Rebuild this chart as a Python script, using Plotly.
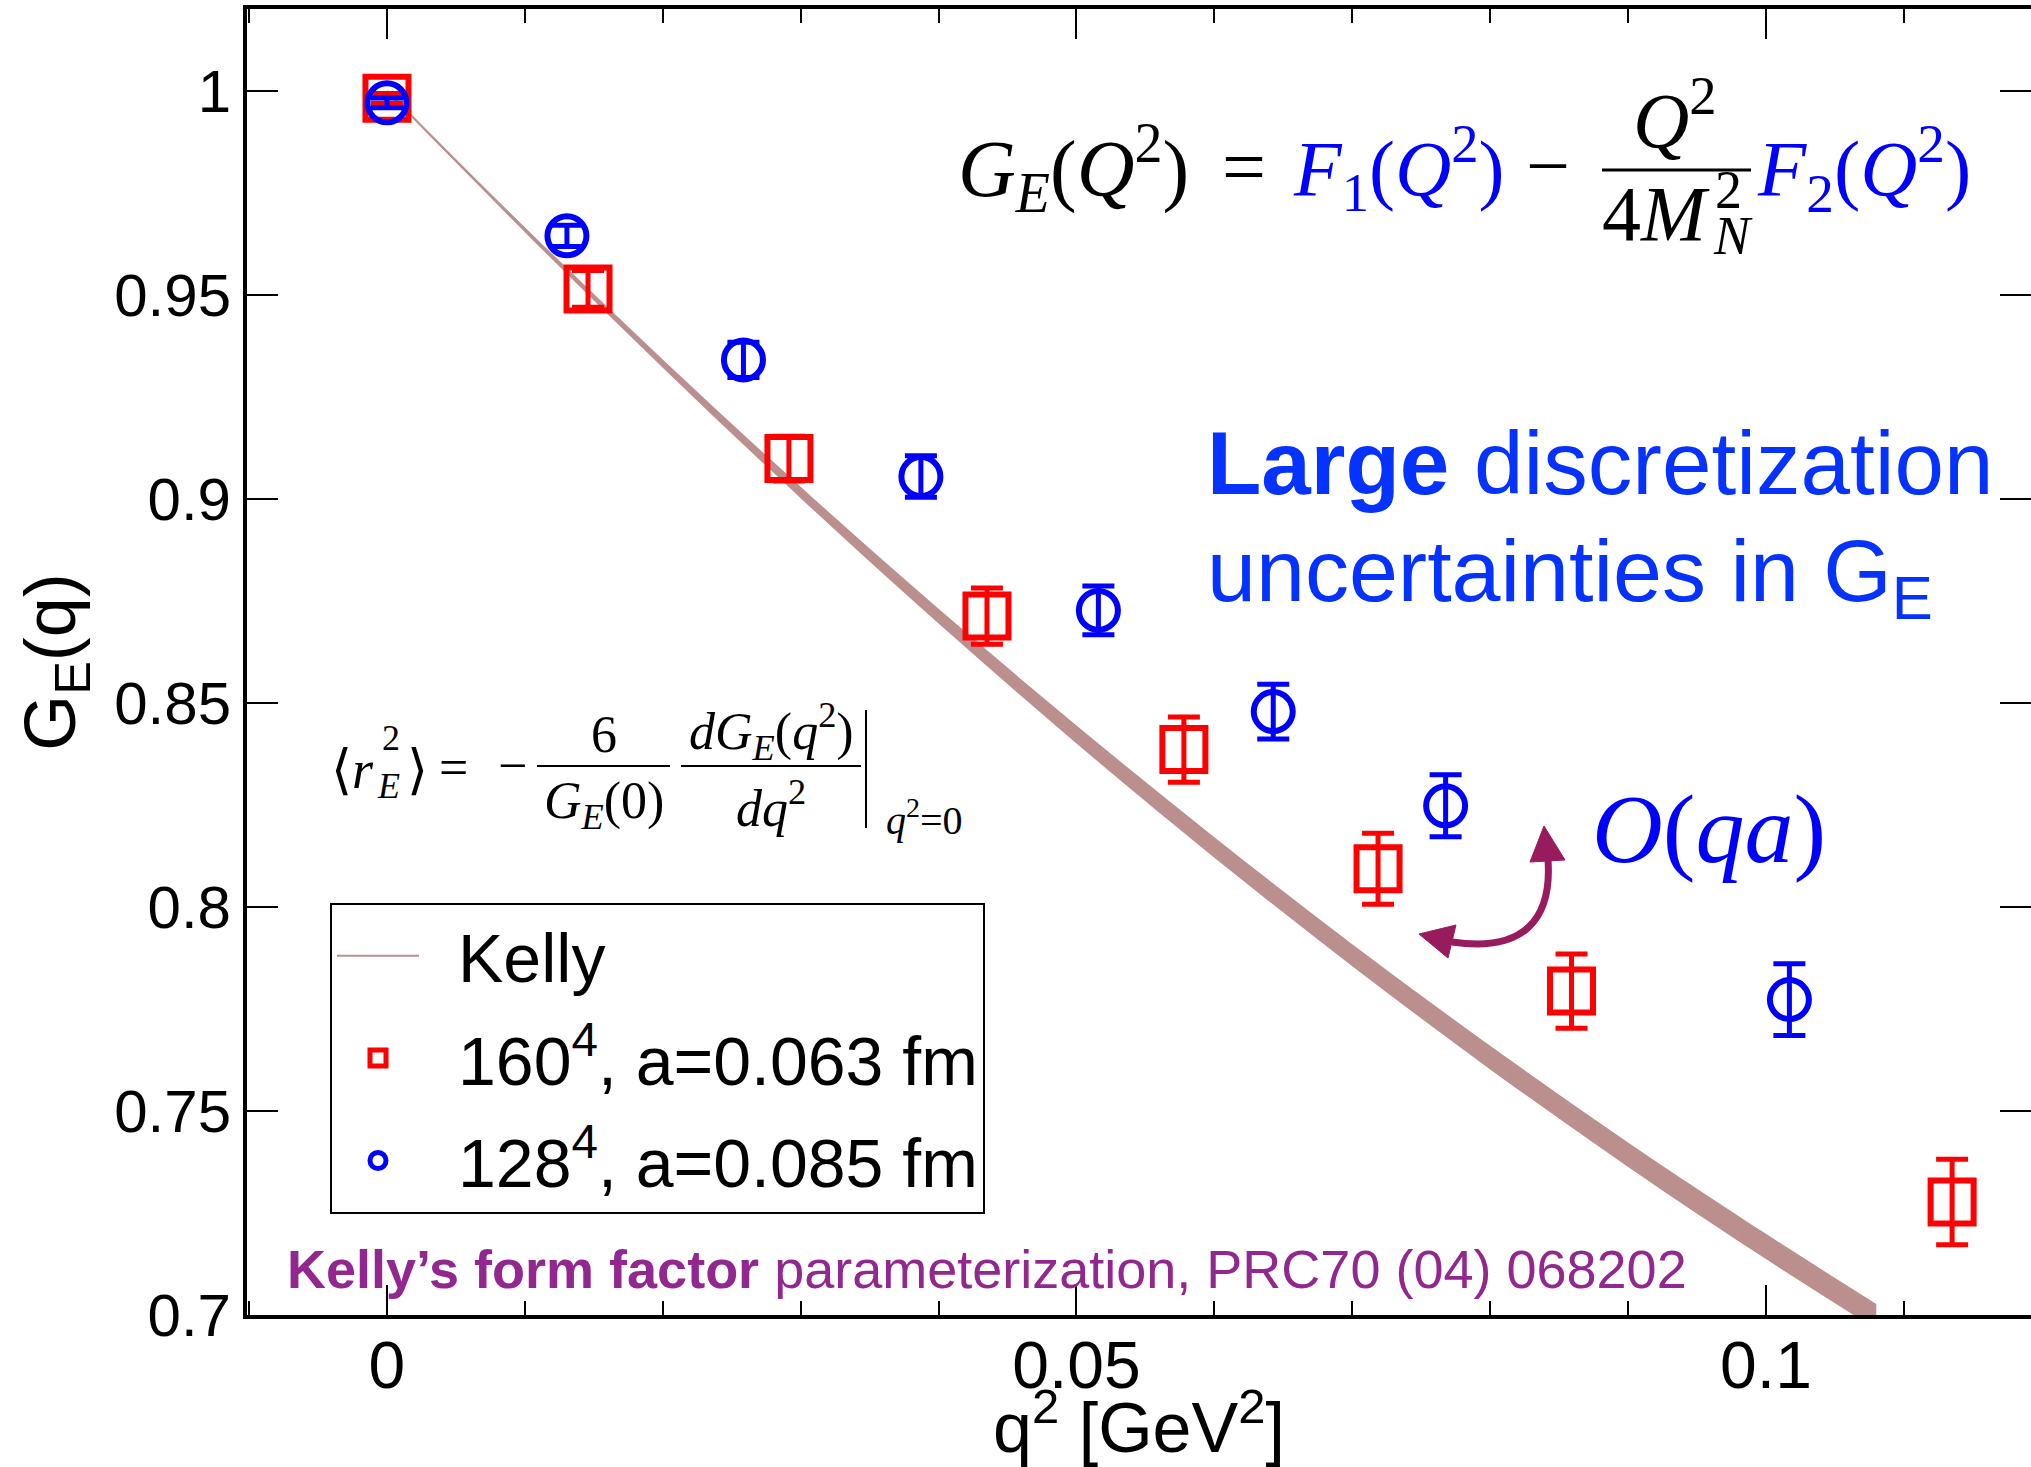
import plotly.graph_objects as go

# ---------------- data ----------------
kelly_q2 = [0.0, 0.01, 0.02, 0.03, 0.04, 0.05, 0.06, 0.07, 0.08, 0.09, 0.10, 0.108]
kelly_ge = [1.000, 0.966, 0.9332, 0.9016, 0.8713, 0.8423, 0.8146, 0.7882, 0.7631, 0.7393, 0.7168, 0.6996]
kelly_err = [0.0002, 0.0006, 0.0010, 0.0014, 0.0018, 0.0022, 0.0025, 0.0027, 0.0029, 0.0030, 0.0031, 0.0031]

red_q2 = [0.0, 0.01458, 0.02915, 0.04351, 0.05779, 0.07187, 0.0859, 0.1135]
red_ge = [0.9982, 0.9515, 0.9099, 0.8713, 0.8386, 0.8094, 0.7794, 0.7277]
red_err = [0.0012, 0.0045, 0.0055, 0.0069, 0.0080, 0.0087, 0.0091, 0.0105]

blue_q2 = [0.0, 0.01305, 0.02585, 0.03872, 0.05159, 0.06427, 0.07677, 0.1017]
blue_ge = [0.9971, 0.9645, 0.9341, 0.9055, 0.8727, 0.8479, 0.8248, 0.7773]
blue_err = [0.0012, 0.0026, 0.0043, 0.0051, 0.0060, 0.0067, 0.0076, 0.0088]

legend_names = ["Kelly", "160<sup>4</sup>, a=0.063 fm", "128<sup>4</sup>, a=0.085 fm"]

# ---------------- geometry ----------------
W, H = 2031, 1467
PL, PR, PT, PB = 247, 2031, 9, 1315
XR = [-0.01015, 0.11922]
YR = [0.7, 1.0201]

def px(x):
    return (x - PL) / (PR - PL)

def py(y):
    return (PB - y) / (PB - PT)

SANS = "Liberation Sans, Arial, Helvetica, sans-serif"
SERIF = "Liberation Serif, Times New Roman, DejaVu Serif, serif"
ROSY = "rgb(188,143,143)"
PURPLE = "rgb(146,39,143)"
ARROW = "rgb(152,27,94)"
PAD = "\u2002"

fig = go.Figure()

lo = [c - e for c, e in zip(kelly_ge, kelly_err)]
hi = [c + e for c, e in zip(kelly_ge, kelly_err)]
fig.add_trace(go.Scatter(x=kelly_q2, y=lo, mode="lines", line=dict(width=0, color=ROSY, shape="spline"),
                         showlegend=False, hoverinfo="skip", legendgroup="a"))
fig.add_trace(go.Scatter(x=kelly_q2, y=hi, mode="lines", line=dict(width=0, color=ROSY, shape="spline"),
                         fill="tonexty", fillcolor=ROSY, showlegend=False, hoverinfo="skip",
                         legendgroup="a"))
fig.add_trace(go.Scatter(x=kelly_q2, y=kelly_ge, mode="lines",
                         line=dict(width=2, color=ROSY, shape="spline"),
                         name=PAD + legend_names[0], legendgroup="a"))

fig.add_trace(go.Scatter(
    x=red_q2, y=red_ge, mode="markers", name=PAD + legend_names[1], legendgroup="b",
    marker=dict(symbol="square-open", size=43, color="#ff0000", line=dict(width=6, color="#ff0000")),
    error_y=dict(type="data", array=red_err, visible=True, color="#ff0000", thickness=5, width=16)))

fig.add_trace(go.Scatter(
    x=blue_q2, y=blue_ge, mode="markers", name=PAD + legend_names[2], legendgroup="c",
    marker=dict(symbol="circle-open", size=39, color="#0000ff", line=dict(width=6, color="#0000ff")),
    error_y=dict(type="data", array=blue_err, visible=True, color="#0000ff", thickness=5, width=16)))

# invisible helper trace so the right-hand tick axis is drawn
fig.add_trace(go.Scatter(x=kelly_q2, y=kelly_ge, yaxis="y2", mode="lines", line=dict(width=0),
                         opacity=0, showlegend=False, hoverinfo="skip", legendgroup="a"))

ann = []

def text(x, y, t, size, color="black", family=SANS, xanchor="left", yanchor="middle"):
    ann.append(dict(x=px(x), y=py(y), xref="paper", yref="paper", text=t, showarrow=False,
                    font=dict(size=size, color=color, family=family),
                    xanchor=xanchor, yanchor=yanchor))

# top formula
text(956, 168, "<i>G</i><sub><i>E</i></sub>(<i>Q</i><sup>2</sup>)", 80, family=SERIF)
text(1244, 166, "=", 78, family=SERIF, xanchor="center")
text(1291, 168, "<i>F</i><sub>1</sub>(<i>Q</i><sup>2</sup>)", 78, color="#0000ff", family=SERIF)
text(1548, 165, "\u2212", 78, family=SERIF, xanchor="center")
text(1675, 115, "<i>Q</i><sup>2</sup>", 78, family=SERIF, xanchor="center")
text(1712, 214, "4<i>M</i>", 78, family=SERIF, xanchor="right")
text(1713, 190, "2", 54, family=SERIF)
text(1711, 236, "<i>N</i>", 54, family=SERIF)
text(1755, 168, "<i>F</i><sub>2</sub>(<i>Q</i><sup>2</sup>)", 79, color="#0000ff", family=SERIF)

# blue statement
text(1205, 463, "<b>Large</b> discretization", 89, color="rgb(5,50,255)")
text(1205, 576, "uncertainties in G<sub>E</sub>", 88, color="rgb(5,50,255)")

# O(qa)
text(1709, 829, "<i>O</i>(<i>qa</i>)", 98, color="#0000ff", family=SERIF, xanchor="center")

# radius formula
text(329, 770, "\u27e8<i>r</i>", 54, family=SERIF)
text(380, 738, "2", 36, family=SERIF)
text(375, 786, "<i>E</i>", 36, family=SERIF)
text(405, 770, "\u27e9", 54, family=SERIF)
text(453, 767, "=", 52, family=SERIF, xanchor="center")
text(512, 766, "\u2212", 52, family=SERIF, xanchor="center")
text(604, 734, "6", 52, family=SERIF, xanchor="center")
text(604, 805, "<i>G</i><sub><i>E</i></sub>(0)", 52, family=SERIF, xanchor="center")
text(771, 731, "<i>dG</i><sub><i>E</i></sub>(<i>q</i><sup>2</sup>)", 52, family=SERIF, xanchor="center")
text(771, 805, "<i>dq</i><sup>2</sup>", 52, family=SERIF, xanchor="center")
text(884, 818, "<i>q</i><sup>2</sup>=0", 40, family=SERIF)

# reference line
text(285, 1269, "<b>Kelly\u2019s form factor</b> parameterization, PRC70 (04) 068202", 54, color=PURPLE)

shapes = [
    dict(type="line", xref="paper", yref="paper", x0=px(1602), x1=px(1751), y0=py(170), y1=py(170),
         line=dict(color="black", width=3)),
    dict(type="line", xref="paper", yref="paper", x0=px(537), x1=px(670), y0=py(766), y1=py(766),
         line=dict(color="black", width=2)),
    dict(type="line", xref="paper", yref="paper", x0=px(681), x1=px(861), y0=py(766), y1=py(766),
         line=dict(color="black", width=2)),
    dict(type="line", xref="paper", yref="paper", x0=px(866), x1=px(866), y0=py(710), y1=py(828),
         line=dict(color="black", width=2)),
]

def P(x, y):
    return f"{px(x):.5f},{py(y):.5f}"

shapes.append(dict(type="path", xref="paper", yref="paper",
                   path=f"M{P(1452,942)} C{P(1525,953)} {P(1552,918)} {P(1548,860)}",
                   line=dict(color=ARROW, width=7)))
shapes.append(dict(type="path", xref="paper", yref="paper",
                   path=f"M{P(1419,934)} L{P(1456,925)} L{P(1448,958)} Z",
                   fillcolor=ARROW, line=dict(color=ARROW, width=1)))
shapes.append(dict(type="path", xref="paper", yref="paper",
                   path=f"M{P(1544,826)} L{P(1565,860)} L{P(1530,862)} Z",
                   fillcolor=ARROW, line=dict(color=ARROW, width=1)))

fig.update_layout(
    width=W, height=H, autosize=False,
    margin=dict(l=PL, r=W - PR, t=PT, b=H - PB, pad=0),
    paper_bgcolor="white", plot_bgcolor="white",
    font=dict(family=SANS, color="black"),
    showlegend=True,
    legend=dict(x=px(330), y=py(903), xanchor="left", yanchor="top",
                bgcolor="white", bordercolor="black", borderwidth=2,
                font=dict(size=68, family=SANS, color="black"),
                itemwidth=82, tracegroupgap=11, traceorder="grouped"),
    xaxis=dict(range=XR, tick0=0, dtick=0.05, ticks="inside", ticklen=30, tickwidth=2,
               tickcolor="black", showline=True, linewidth=4, linecolor="black", mirror="ticks",
               showgrid=False, zeroline=False, ticklabelstandoff=-10,
               tickfont=dict(size=66, family=SANS),
               minor=dict(tick0=0, dtick=0.01, ticks="inside", ticklen=14, tickwidth=2, tickcolor="black",
                          showgrid=False),
               title=dict(text="q<sup>2</sup> [GeV<sup>2</sup>]", font=dict(size=70, family=SANS), standoff=14)),
    yaxis=dict(range=YR, tick0=0.7, dtick=0.05, ticks="inside", ticklen=31, tickwidth=2,
               tickcolor="black", showline=True, linewidth=4, linecolor="black", mirror=False,
               showgrid=False, zeroline=False,
               tickfont=dict(size=60, family=SANS),
               title=dict(text="G<sub>E</sub>(q)", font=dict(size=72, family=SANS), standoff=16)),
    yaxis2=dict(range=YR, tick0=0.7, dtick=0.05, overlaying="y", side="right", anchor="x",
                ticks="inside", ticklen=31, tickwidth=2, tickcolor="black", showticklabels=False,
                showline=False, showgrid=False, zeroline=False),
    annotations=ann, shapes=shapes,
)

fig.write_html("out.html")
